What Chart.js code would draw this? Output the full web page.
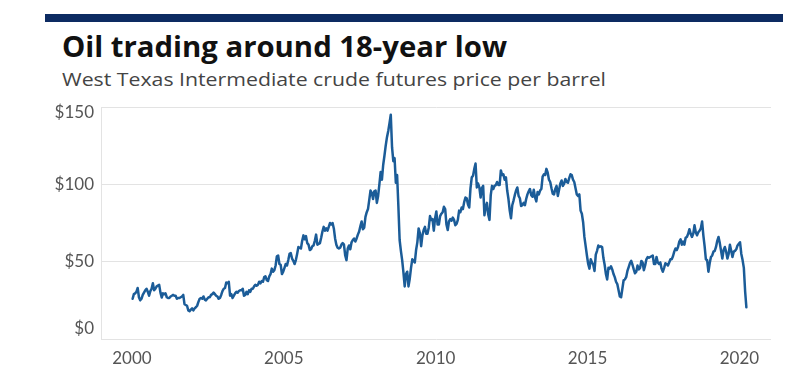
<!DOCTYPE html>
<html>
<head>
<meta charset="utf-8">
<script src="https://cdn.jsdelivr.net/npm/chart.js@4/dist/chart.umd.min.js"></script>
<style>
  html, body { margin: 0; padding: 0; background: #ffffff; }
  #wrap { position: relative; width: 796px; height: 379px; overflow: hidden; background: #fff; }
  #bar { position: absolute; left: 45px; top: 14px; width: 738px; height: 8px; background: #0d2b62; }
  .txt { position: absolute; left: 62px; white-space: nowrap; line-height: 1; transform-origin: 0 0; font-family: "Open Sans", Lato, sans-serif; }
  #title { top: 32px; font-size: 28px; font-weight: 700; color: #111; }
  #subtitle { top: 70px; font-size: 19px; font-weight: 400; color: #444; }
  #c { position: absolute; left: 0; top: 0; }
</style>
</head>
<body>
<div id="wrap">
  <div id="bar"></div>
  <div id="title" class="txt">Oil trading around 18-year low</div>
  <div id="subtitle" class="txt">West Texas Intermediate crude futures price per barrel</div>
  <canvas id="c" width="796" height="379"></canvas>
</div>
<script>
// ---- Data: WTI crude futures, approx. twice-monthly readings ($/barrel) ----
const price2000 = [26.0,29.0, 29.5,30.5, 33.0,27.0, 25.0,26.0, 28.5,30.0, 31.5,32.5, 30.5,28.0, 31.0,32.5, 36.0,31.5, 32.5,34.0, 34.5,35.0, 30.0,26.8];
const price2001 = [29.5,29.0, 29.5,27.0, 26.5,26.5, 27.5,28.0, 28.5,28.0, 28.0,26.0, 26.5,26.5, 27.0,27.5, 28.5,22.5, 22.0,21.5, 18.5,18.0, 19.0,19.8];
const price2002 = [18.5,19.8, 20.5,21.5, 24.0,26.0, 26.5,26.0, 27.5,25.5, 25.0,26.0, 27.0,27.0, 28.5,29.0, 30.0,29.0, 28.0,27.5, 26.0,26.5, 28.5,31.0];
const price2003 = [32.5,33.0, 36.5,36.0, 37.0,28.0, 29.0,26.5, 28.0,29.5, 30.5,30.0, 31.0,31.5, 31.5,32.5, 28.0,28.5, 30.5,29.0, 31.5,30.5, 32.5,32.5];
const price2004 = [34.0,35.0, 34.5,35.0, 37.0,36.0, 37.5,37.0, 40.0,40.5, 38.0,37.5, 40.5,42.0, 45.5,43.5, 44.5,47.5, 53.5,54.0, 48.5,48.0, 42.0,43.5];
const price2005 = [46.0,48.5, 47.5,51.0, 55.0,55.5, 52.0,50.5, 48.5,51.0, 55.0,59.5, 59.0,58.5, 63.5,67.0, 64.5,66.5, 62.0,61.0, 57.5,58.0, 60.0,60.5];
const price2006 = [63.5,67.5, 61.0,61.5, 62.0,65.5, 69.5,72.5, 70.0,71.5, 70.0,72.5, 75.0,74.0, 75.0,71.5, 65.0,61.0, 59.0,58.5, 59.0,61.0, 62.0,61.0];
const price2007 = [54.0,51.0, 58.5,60.5, 58.0,62.5, 64.0,65.0, 63.0,65.0, 67.5,69.5, 73.0,76.0, 71.0,72.0, 79.0,82.0, 84.0,90.0, 96.0,94.5, 90.5,95.5];
const price2008 = [96.0,88.0, 92.5,100.0, 108.0,103.0, 112.5,118.5, 125.0,130.5, 134.5,139.5, 145.0,124.0, 115.0,117.0, 101.0,106.0, 86.0,64.0, 57.0,51.0, 43.0,34.0];
const price2009 = [42.0,43.5, 34.0,39.0, 46.0,51.5, 50.5,49.5, 57.5,62.5, 71.5,68.5, 60.0,67.0, 70.5,72.5, 68.0,68.0, 72.0,79.5, 77.0,77.5, 70.0,78.0];
const price2010 = [82.5,74.0, 74.0,79.5, 81.0,82.0, 85.5,84.0, 74.0,70.5, 76.0,77.5, 76.5,78.5, 77.0,73.5, 74.5,77.0, 83.0,82.0, 85.0,84.0, 88.5,91.5];
const price2011 = [91.0,87.0, 85.0,97.5, 104.5,105.5, 110.0,113.5, 98.0,100.5, 98.0,91.5, 97.5,99.0, 80.0,85.5, 88.0,80.5, 77.0,93.0, 99.0,97.0, 99.0,99.5];
const price2012 = [101.5,99.5, 99.5,109.0, 106.0,106.5, 103.0,104.5, 96.0,90.5, 83.0,78.0, 86.5,89.5, 93.0,96.0, 98.0,92.5, 91.0,86.0, 86.5,88.0, 86.5,90.5];
const price2013 = [93.5,95.5, 97.0,93.0, 92.0,96.5, 91.5,89.0, 95.0,93.5, 96.0,97.0, 105.0,106.5, 106.0,110.0, 107.5,103.0, 101.5,97.5, 94.0,93.5, 97.0,99.0];
const price2014 = [92.5,96.5, 100.5,102.5, 99.0,100.5, 103.5,101.5, 101.0,104.0, 106.5,106.0, 103.0,101.5, 97.5,93.5, 92.5,93.5, 83.0,81.0, 75.5,66.0, 60.0,54.0];
const price2015 = [48.5,45.5, 51.5,49.5, 48.0,44.0, 54.5,57.0, 60.5,59.5, 60.0,59.5, 52.5,48.0, 42.0,38.5, 46.0,45.5, 47.0,45.0, 42.0,40.0, 37.0,35.5];
const price2016 = [31.5,27.5, 27.0,32.5, 38.0,38.5, 40.0,44.0, 46.5,49.0, 50.5,48.0, 45.0,42.5, 43.5,47.5, 45.0,46.0, 50.5,49.5, 44.5,47.5, 51.5,53.0];
const price2017 = [52.5,53.0, 53.5,54.0, 48.5,48.5, 53.0,49.5, 48.5,49.5, 45.5,43.5, 46.0,49.0, 48.5,47.5, 49.5,51.5, 51.5,53.5, 56.5,58.5, 57.5,59.5];
const price2018 = [63.0,64.5, 61.0,63.0, 61.0,65.5, 66.0,68.0, 71.0,68.0, 66.0,68.0, 73.5,69.0, 67.0,69.0, 70.0,71.5, 76.0,67.0, 60.0,51.5, 51.0,43.5];
const price2019 = [49.0,53.0, 54.0,56.5, 57.0,59.5, 63.5,66.0, 62.0,57.0, 52.0,57.5, 59.5,56.5, 52.0,55.0, 61.0,57.0, 53.0,56.5, 57.0,58.0, 60.5,61.5];
const price2020 = [62.5,55.0, 51.0,46.0, 31.0,20.5];

const firstYear = 2000;
const pricesByYear = [price2000, price2001, price2002, price2003, price2004, price2005, price2006,
  price2007, price2008, price2009, price2010, price2011, price2012, price2013, price2014,
  price2015, price2016, price2017, price2018, price2019, price2020];

const xTickYears = [2000, 2005, 2010, 2015, 2020];
const yTickValues = [0, 50, 100, 150];
const yTickLabels = ['$0', '$50', '$100', '$150'];

// build {x: decimal year, y: price} points (two readings per month)
const points = [];
pricesByYear.forEach((arr, yi) => {
  arr.forEach((v, k) => points.push({ x: firstYear + yi + (k + 0.5) / 24, y: v }));
});

// fit title/subtitle widths to reference
function fitWidth(id, target) {
  const el = document.getElementById(id);
  const w = el.getBoundingClientRect().width;
  el.style.transform = 'scaleX(' + (target / w) + ')';
}
fitWidth('title', 445);
fitWidth('subtitle', 544);

const tickFont = '17px Lato, "Open Sans", sans-serif';
const tickColor = '#555555';

const yLabelPlugin = {
  id: 'yLabels',
  afterDraw(chart) {
    const ys = chart.scales.y, ctx = chart.ctx, area = chart.chartArea;
    ctx.save();
    ctx.font = tickFont;
    ctx.fillStyle = tickColor;
    ctx.textAlign = 'right';
    ctx.textBaseline = 'middle';
    yTickValues.forEach((v, i) => {
      let py = ys.getPixelForValue(v);
      py = Math.max(area.top + 6, Math.min(area.bottom - 10.5, py));
      ctx.fillText(yTickLabels[i], 94, py);
    });
    ctx.restore();
  }
};

new Chart(document.getElementById('c'), {
  type: 'line',
  data: {
    datasets: [{
      data: points,
      borderColor: '#1b5c98',
      borderWidth: 2.5,
      pointRadius: 0,
      tension: 0,
      fill: false,
      borderJoinStyle: 'round',
      borderCapStyle: 'round'
    }]
  },
  options: {
    responsive: false,
    devicePixelRatio: 1,
    animation: false,
    layout: { padding: { top: 107, right: 25, bottom: 0, left: 0 } },
    plugins: { legend: { display: false }, tooltip: { enabled: false }, title: { display: false } },
    scales: {
      x: {
        type: 'linear',
        min: 1998.98,
        max: 2021.04,
        afterBuildTicks: (s) => { s.ticks = xTickYears.map(v => ({ value: v })); },
        afterFit: (s) => { s.height = 40; },
        grid: { display: false, drawTicks: false },
        border: { display: false },
        ticks: {
          padding: 9,
          font: { family: 'Lato, "Open Sans", sans-serif', size: 17 },
          color: tickColor,
          maxRotation: 0,
          autoSkip: false,
          callback: (v) => String(v)
        }
      },
      y: {
        min: 0,
        max: 150,
        afterBuildTicks: (s) => { s.ticks = yTickValues.map(v => ({ value: v })); },
        afterFit: (s) => { s.width = 101; },
        grid: { color: '#e3e3e3', lineWidth: 1, drawTicks: false },
        border: { display: true, color: '#e3e3e3' },
        ticks: { display: false }
      }
    }
  },
  plugins: [yLabelPlugin]
});
</script>
</body>
</html>
